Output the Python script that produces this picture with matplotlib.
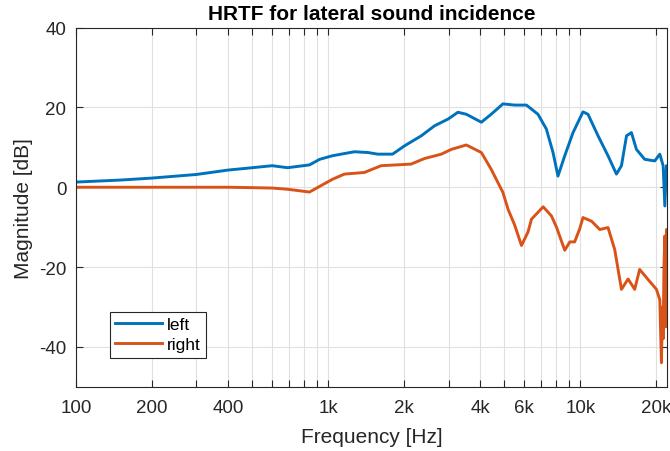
import matplotlib.pyplot as plt
import numpy as np
from matplotlib.ticker import FixedLocator, FixedFormatter

plt.rcParams['font.family'] = ['Liberation Sans', 'DejaVu Sans']
plt.rcParams['axes.unicode_minus'] = False

# measured magnitude responses, frequency in Hz, magnitude in dB
freq_left = [100, 150, 200, 300, 400, 500, 600, 690, 843, 925, 1040, 1270, 1440, 1570,
             1800, 2010, 2340, 2640, 2990, 3270, 3530, 4050, 4430, 4930, 5490, 6110,
             6790, 7330, 7790, 8150, 8670, 9350, 10240, 10720, 11750, 12870, 13900,
             14550, 15240, 15940, 16680, 17990, 19720, 20650, 21290, 21620, 21950, 22050]
mag_left = [1.3, 1.8, 2.3, 3.2, 4.3, 4.9, 5.4, 4.9, 5.6, 7.0, 7.9, 8.9, 8.7, 8.3,
            8.3, 10.4, 12.9, 15.4, 17.1, 18.8, 18.3, 16.3, 18.3, 20.9, 20.6, 20.6,
            18.3, 14.6, 8.7, 2.8, 7.9, 13.7, 18.9, 18.3, 12.9, 7.9, 3.3,
            5.4, 12.9, 13.7, 9.5, 7.0, 6.6, 8.3, 5.4, -4.7, 5.4, 4.5]

freq_right = [100, 200, 300, 400, 500, 600, 690, 843, 1040, 1160, 1390, 1620, 2130,
              2410, 2810, 3080, 3530, 4050, 4430, 4930, 5165, 5490, 5840, 6200, 6400,
              7120, 7680, 8040, 8670, 9080, 9490, 9940, 10240, 11070, 11940, 12870,
              13680, 14550, 15460, 16420, 17180, 18530, 20030, 20650, 20960, 21150,
              21290, 21450, 21620, 21800, 21950, 22050]
mag_right = [0.0, 0.0, 0.0, 0.0, -0.1, -0.2, -0.5, -1.2, 2.0, 3.3, 3.7, 5.4, 5.8,
             7.2, 8.3, 9.5, 10.6, 8.7, 4.5, -1.3, -5.5, -9.5, -14.6, -11.2, -8.0,
             -4.9, -7.2, -10.0, -15.8, -13.7, -13.7, -10.4, -7.6, -8.5, -10.6, -10.1,
             -15.6, -25.6, -23.0, -25.6, -20.6, -23.1, -25.6, -28.2, -44.0, -30.0,
             -38.0, -20.0, -12.2, -35.0, -10.6, -11.0]

xtick_pos = [100, 200, 300, 400, 500, 600, 700, 800, 900,
             1000, 2000, 3000, 4000, 5000, 6000, 7000, 8000, 9000, 10000, 20000]
xtick_lab = ['100', '200', '', '400', '', '', '', '', '',
             '1k', '2k', '', '4k', '', '6k', '', '', '', '10k', '20k']
ytick_pos = [-40, -20, 0, 20, 40]

fig = plt.figure(figsize=(6.7, 4.52), dpi=100)
ax = fig.add_axes([0.1134, 0.1423, 0.8821, 0.7942])

ax.plot(freq_left, mag_left, color='#0072BD', linewidth=2.1, label='left')
ax.plot(freq_right, mag_right, color='#D95319', linewidth=2.1, label='right')

ax.set_xscale('log')
ax.set_xlim(100, 22050)
ax.set_ylim(-50, 40)
ax.xaxis.set_major_locator(FixedLocator(xtick_pos))
ax.xaxis.set_major_formatter(FixedFormatter(xtick_lab))
ax.xaxis.set_minor_locator(FixedLocator([]))
ax.set_yticks(ytick_pos)

ax.grid(True, color='#e0e0e0', linewidth=0.8)
ax.set_axisbelow(True)
ax.tick_params(direction='in', top=True, right=True, length=5, width=0.8,
               colors='#262626', labelsize=13.5)
ax.tick_params(axis='x', pad=9)
ax.tick_params(axis='y', pad=7)
for s in ax.spines.values():
    s.set_color('#262626')
    s.set_linewidth(0.8)

ax.set_xlabel('Frequency [Hz]', fontsize=15, color='#262626', labelpad=8)
ax.set_ylabel('Magnitude [dB]', fontsize=15, color='#262626', labelpad=4)
ax.set_title('HRTF for lateral sound incidence', fontsize=15, fontweight='bold', pad=6)

leg = ax.legend(loc='lower left', bbox_to_anchor=(0.0575, 0.0808), borderaxespad=0,
                fancybox=False, framealpha=1, edgecolor='#262626', fontsize=12.5,
                handlelength=2.7, handletextpad=0.3, borderpad=0.3, labelspacing=0.3)
leg.get_frame().set_linewidth(0.8)

fig.savefig('out.png', dpi=100)
